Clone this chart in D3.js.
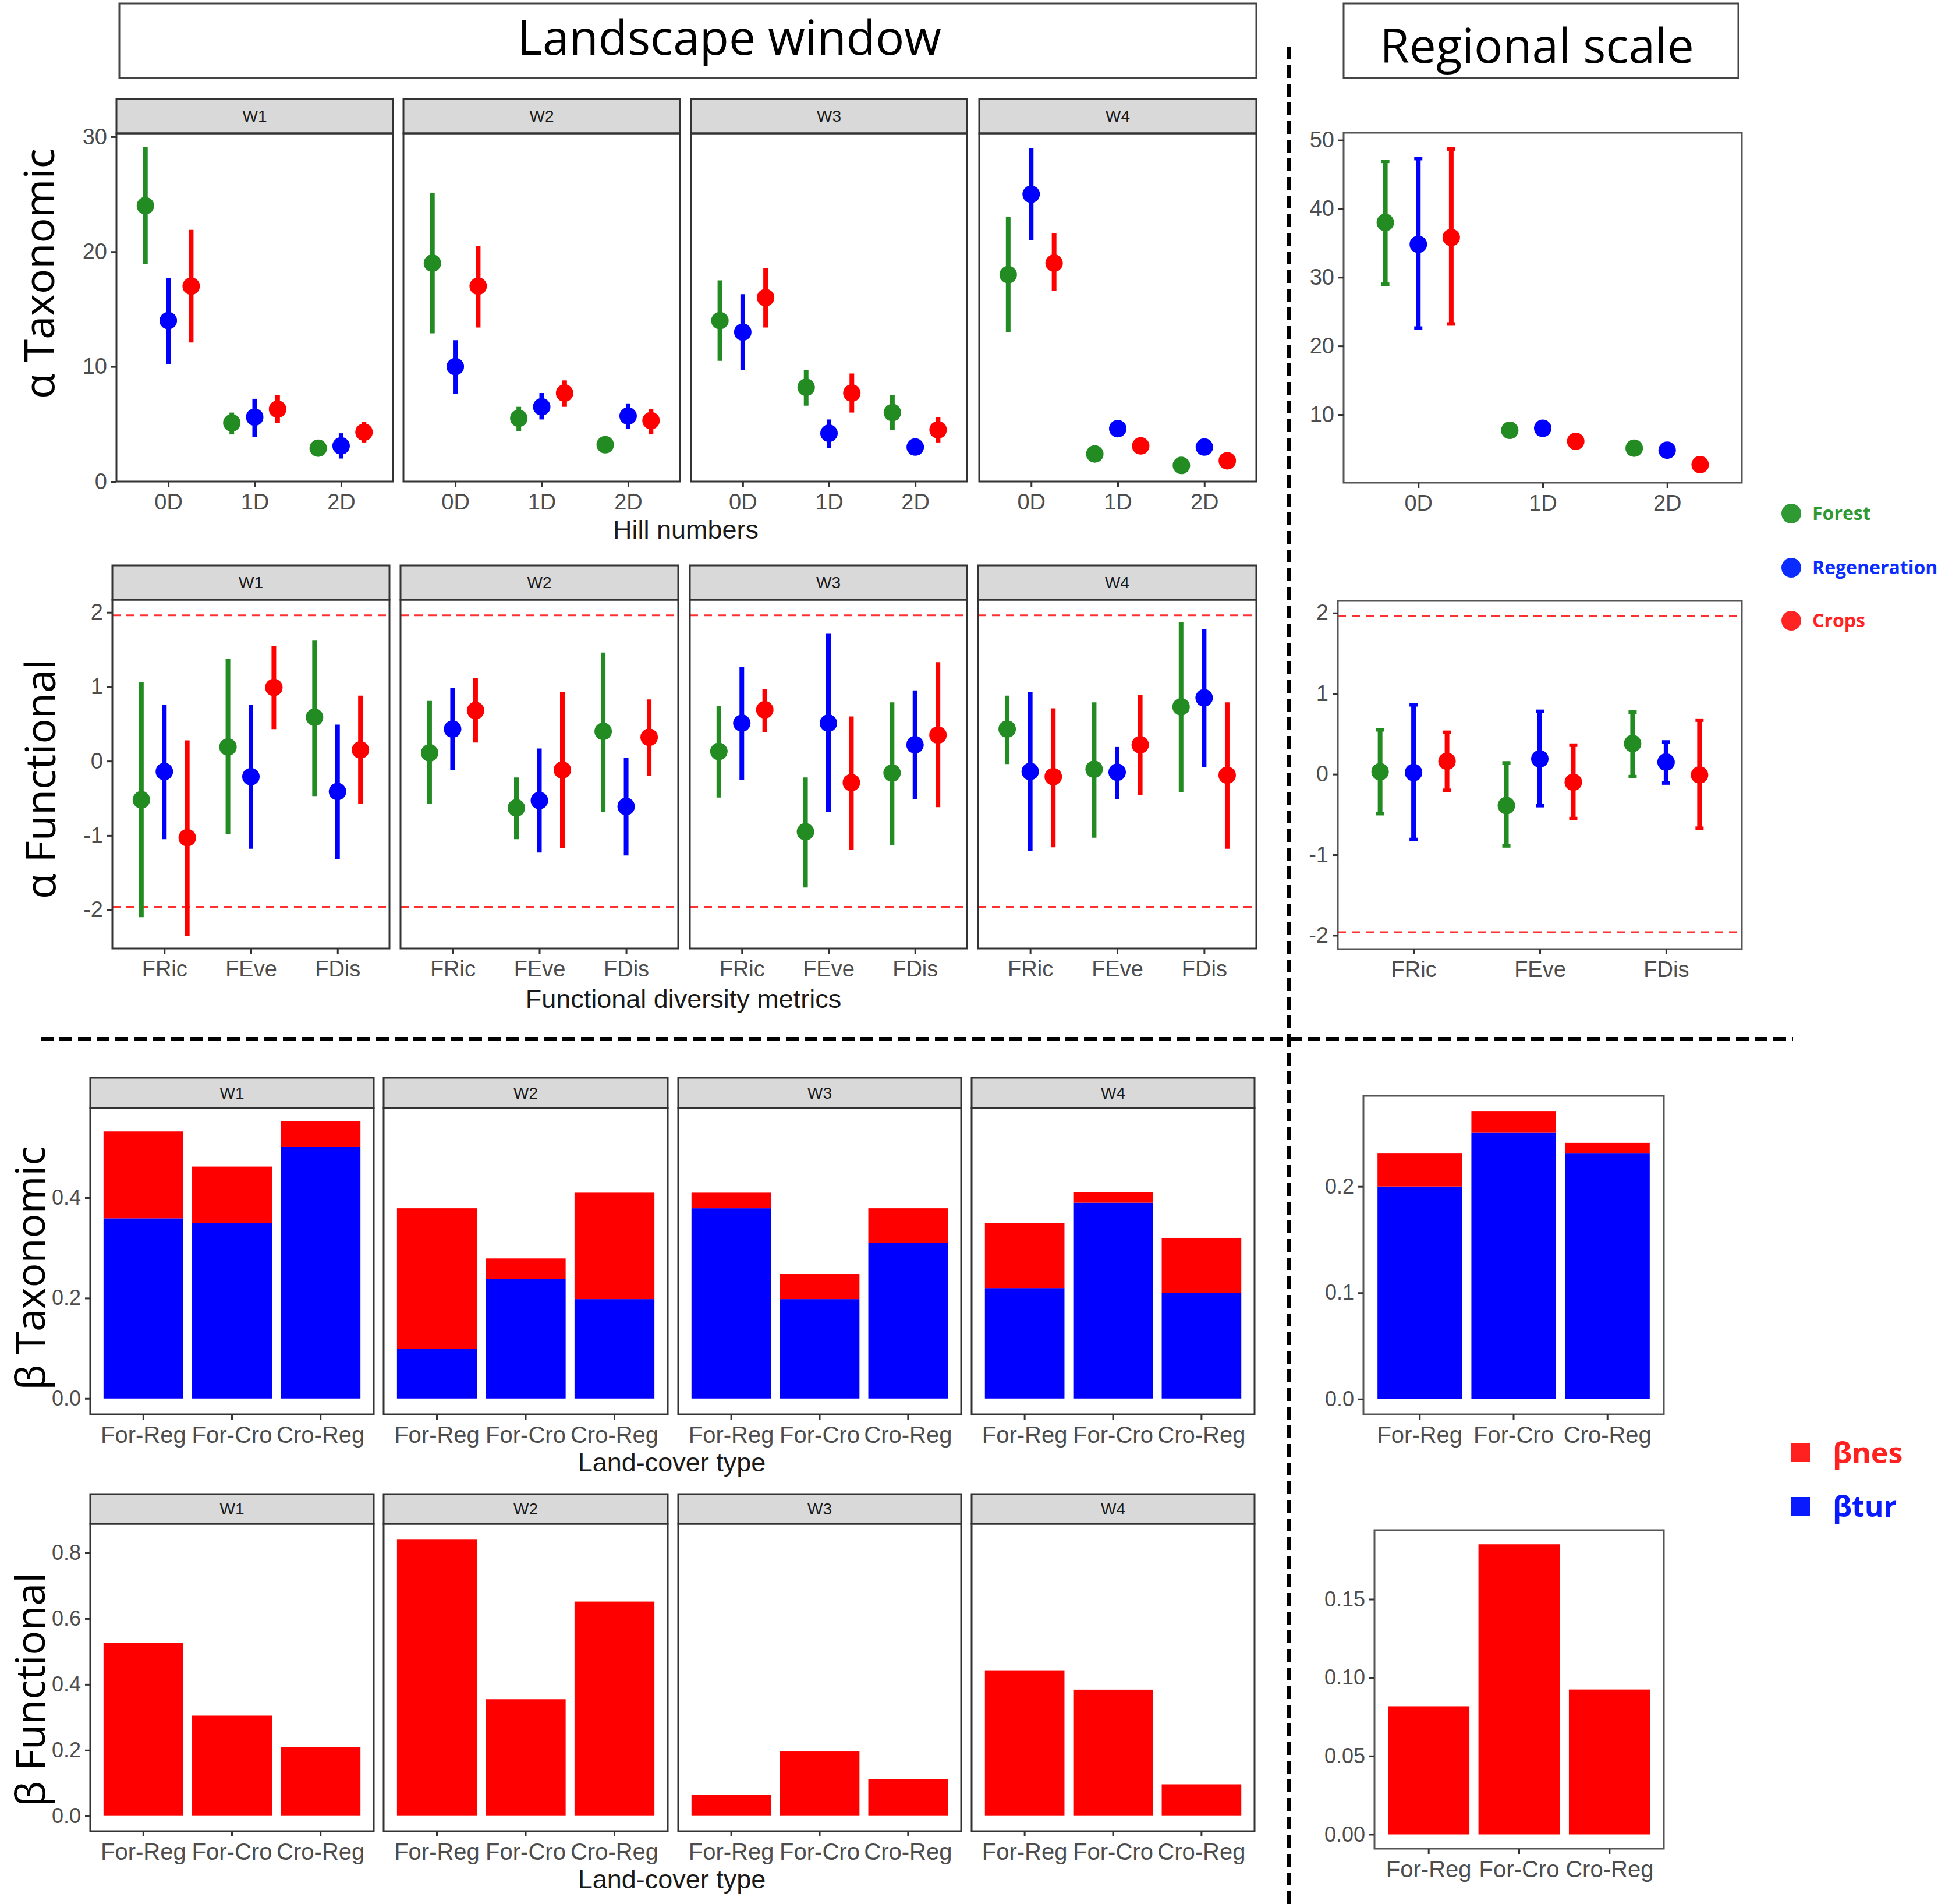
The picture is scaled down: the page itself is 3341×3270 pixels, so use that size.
<!DOCTYPE html>
<html>
  <head>
    <meta charset="UTF-8" />
    <script src="https://d3js.org/d3.v7.min.js"></script>
    <style>
      body { margin: 0; background: #fff; }
    </style>
  </head>
  <body>
    <div id="my_dataviz"></div>

    <script>
      // ---- categories ----
      const windows = ["W1", "W2", "W3", "W4"];
      const hillNumbers = ["0D", "1D", "2D"];
      const fdMetrics = ["FRic", "FEve", "FDis"];
      const pairs = ["For-Reg", "For-Cro", "Cro-Reg"];
      const landCovers = ["Forest", "Regeneration", "Crops"];

      // ---- alpha taxonomic, [mean, low, high] per window x hill number ----
      const aTaxForest = [
        [[24.0, 18.9, 29.1], [5.1, 4.1, 6.0], [2.9, 2.9, 2.9]],
        [[19.0, 12.9, 25.1], [5.5, 4.4, 6.5], [3.2, 3.2, 3.2]],
        [[14.0, 10.5, 17.5], [8.2, 6.6, 9.7], [6.0, 4.5, 7.5]],
        [[18.0, 13.0, 23.0], [2.4, 2.4, 2.4], [1.4, 1.4, 1.4]]
      ];
      const aTaxRegen = [
        [[14.0, 10.2, 17.7], [5.6, 3.9, 7.2], [3.1, 2.0, 4.2]],
        [[10.0, 7.6, 12.3], [6.5, 5.4, 7.7], [5.7, 4.6, 6.8]],
        [[13.0, 9.7, 16.3], [4.2, 2.9, 5.4], [3.0, 2.7, 3.3]],
        [[25.0, 21.0, 29.0], [4.6, 4.6, 4.6], [3.0, 3.0, 3.0]]
      ];
      const aTaxCrops = [
        [[17.0, 12.1, 21.9], [6.3, 5.1, 7.5], [4.3, 3.4, 5.2]],
        [[17.0, 13.4, 20.5], [7.7, 6.5, 8.8], [5.3, 4.1, 6.3]],
        [[16.0, 13.4, 18.6], [7.7, 6.0, 9.4], [4.5, 3.4, 5.6]],
        [[19.0, 16.6, 21.6], [3.1, 3.1, 3.1], [1.8, 1.8, 1.8]]
      ];
      // regional scale
      const aTaxRegForest = [[38.0, 29.0, 46.9], [7.7, 7.7, 7.7], [5.1, 5.1, 5.1]];
      const aTaxRegRegen = [[34.8, 22.6, 47.3], [8.0, 8.0, 8.0], [4.8, 4.8, 4.8]];
      const aTaxRegCrops = [[35.8, 23.2, 48.7], [6.1, 6.1, 6.1], [2.7, 2.7, 2.7]];

      // ---- alpha functional (SES), [mean, low, high] per window x metric ----
      const aFunForest = [
        [[-0.52, -2.1, 1.06], [0.19, -0.98, 1.38], [0.59, -0.47, 1.62]],
        [[0.11, -0.57, 0.81], [-0.63, -1.05, -0.22], [0.4, -0.68, 1.46]],
        [[0.13, -0.49, 0.74], [-0.95, -1.7, -0.22], [-0.16, -1.13, 0.79]],
        [[0.43, -0.04, 0.88], [-0.11, -1.03, 0.79], [0.73, -0.42, 1.87]]
      ];
      const aFunRegen = [
        [[-0.14, -1.05, 0.76], [-0.21, -1.18, 0.76], [-0.41, -1.32, 0.49]],
        [[0.43, -0.12, 0.98], [-0.53, -1.23, 0.17], [-0.61, -1.27, 0.04]],
        [[0.51, -0.25, 1.27], [0.51, -0.68, 1.72], [0.22, -0.51, 0.95]],
        [[-0.14, -1.21, 0.93], [-0.15, -0.51, 0.19], [0.85, -0.08, 1.77]]
      ];
      const aFunCrops = [
        [[-1.03, -2.35, 0.28], [0.99, 0.43, 1.55], [0.15, -0.57, 0.88]],
        [[0.68, 0.25, 1.12], [-0.12, -1.17, 0.93], [0.32, -0.2, 0.83]],
        [[0.69, 0.39, 0.97], [-0.29, -1.19, 0.6], [0.35, -0.62, 1.33]],
        [[-0.21, -1.16, 0.71], [0.22, -0.46, 0.89], [-0.19, -1.18, 0.79]]
      ];
      const aFunRegForest = [[0.03, -0.49, 0.55], [-0.39, -0.89, 0.14], [0.38, -0.03, 0.77]];
      const aFunRegRegen = [[0.02, -0.81, 0.86], [0.19, -0.39, 0.78], [0.15, -0.11, 0.4]];
      const aFunRegCrops = [[0.16, -0.2, 0.52], [-0.1, -0.55, 0.36], [-0.01, -0.67, 0.67]];
      const sesLimit = 1.96;

      // ---- beta taxonomic: turnover and nestedness per window x pair ----
      const bTaxTur = [
        [0.359, 0.349, 0.501],
        [0.099, 0.238, 0.198],
        [0.379, 0.198, 0.31],
        [0.22, 0.39, 0.21]
      ];
      const bTaxNes = [
        [0.173, 0.113, 0.051],
        [0.28, 0.041, 0.212],
        [0.031, 0.05, 0.069],
        [0.129, 0.021, 0.11]
      ];
      const bTaxRegTur = [0.2, 0.251, 0.231];
      const bTaxRegNes = [0.031, 0.02, 0.01];

      // ---- beta functional per window x pair ----
      const bFun = [
        [0.526, 0.305, 0.209],
        [0.842, 0.355, 0.652],
        [0.064, 0.196, 0.112],
        [0.443, 0.384, 0.096]
      ];
      const bFunReg = [0.0817, 0.185, 0.0924];

      // ---- y ticks ----
      const ticksATax = [0, 10, 20, 30];
      const ticksATaxReg = [10, 20, 30, 40, 50];
      const ticksAFun = [-2, -1, 0, 1, 2];
      const ticksBTax = [0, 0.2, 0.4];
      const ticksBTaxReg = [0, 0.1, 0.2];
      const ticksBFun = [0, 0.2, 0.4, 0.6, 0.8];
      const ticksBFunReg = [0, 0.05, 0.1, 0.15];

      const coverColors = ["#228B22", "#0000FF", "#FF0000"];
      const legendColors = ["#2f9a33", "#0a2cff", "#ff2424"];
      const turColor = "#0000FF", nesColor = "#FF0000";

      const W = 3341, H = 3270;
      const svg = d3
        .select("#my_dataviz")
        .append("svg")
        .attr("width", W)
        .attr("height", H)
        .style("font-family", "'Liberation Sans', Arial, sans-serif");

      // facet layout per row: strip top, panel top, panel bottom, panel x ranges, regional box
      const rows = [
        { sy: 170, y0: 229, y1: 827,
          xs: [[200, 675], [693, 1168], [1187, 1661], [1682, 2158]],
          reg: { x: [2308, 2992], y: [228, 829] } },
        { sy: 971, y0: 1030, y1: 1629,
          xs: [[193, 669], [688, 1165], [1185, 1661], [1680, 2158]],
          reg: { x: [2298, 2992], y: [1032, 1630] } },
        { sy: 1851, y0: 1903, y1: 2429,
          xs: [[155, 642], [659, 1147], [1165, 1651], [1669, 2155]],
          reg: { x: [2342, 2858], y: [1882, 2429] } },
        { sy: 2566, y0: 2617, y1: 3145,
          xs: [[155, 642], [659, 1147], [1165, 1651], [1669, 2155]],
          reg: { x: [2361, 2858], y: [2628, 3175] } }
      ];

      // ggplot style: plain hyphen for negatives
      const fmtPlain = f => d => {
        const s = d3.format(f)(Math.abs(d));
        return d < 0 ? "-" + s : s;
      };

      function styleAxis(g, size) {
        g.select(".domain").remove();
        g.selectAll(".tick line").attr("stroke", "#333").attr("stroke-width", 3);
        g.selectAll(".tick text")
          .attr("fill", "#4d4d4d")
          .style("font-size", size + "px")
          .style("font-family", "'Liberation Sans', Arial, sans-serif");
      }

      function frame(x0, x1, sy, y0, y1, label, border) {
        if (label) {
          svg.append("rect")
            .attr("x", x0).attr("y", sy)
            .attr("width", x1 - x0).attr("height", y0 - sy)
            .attr("fill", "#d9d9d9").attr("stroke", "#333").attr("stroke-width", 3);
          svg.append("text")
            .attr("x", (x0 + x1) / 2).attr("y", (sy + y0) / 2)
            .attr("dy", "0.35em").attr("text-anchor", "middle")
            .attr("fill", "#1a1a1a").style("font-size", "28px")
            .text(label);
        }
        svg.append("rect")
          .attr("x", x0).attr("y", y0)
          .attr("width", x1 - x0).attr("height", y1 - y0)
          .attr("fill", "none").attr("stroke", border).attr("stroke-width", 3);
      }

      // dot + error bar panel
      function pointPanel(x0, x1, sy, y0, y1, label, cats, seriesList, yDomain, yTicks, showY, opts) {
        const x = d3.scalePoint().domain(cats).range([x0, x1]).padding(0.6);
        const y = d3.scaleLinear().domain(yDomain).range([y1, y0]);
        const off = x.step() * 0.265;
        svg.append("rect").attr("x", x0).attr("y", y0)
          .attr("width", x1 - x0).attr("height", y1 - y0).attr("fill", "#fff");

        if (opts.hline) {
          [opts.hline, -opts.hline].forEach(v => {
            svg.append("line")
              .attr("x1", x0).attr("x2", x1).attr("y1", y(v)).attr("y2", y(v))
              .attr("stroke", "#FF3030").attr("stroke-width", 3)
              .attr("stroke-dasharray", "14,10");
          });
        }

        seriesList.forEach((vals, s) => {
          const g = svg.append("g").attr("fill", coverColors[s]).attr("stroke", coverColors[s]);
          const data = vals.map((d, i) => ({ cat: cats[i], m: d[0], lo: d[1], hi: d[2] }));
          const cx = d => x(d.cat) + (s - 1) * off;
          g.selectAll("line.err").data(data).join("line")
            .attr("class", "err")
            .attr("x1", cx).attr("x2", cx)
            .attr("y1", d => y(d.lo)).attr("y2", d => y(d.hi))
            .attr("stroke-width", 8);
          if (opts.caps) {
            ["lo", "hi"].forEach(k => {
              g.selectAll("line.cap" + k).data(data.filter(d => d.hi > d.lo)).join("line")
                .attr("x1", d => cx(d) - 7).attr("x2", d => cx(d) + 7)
                .attr("y1", d => y(d[k])).attr("y2", d => y(d[k]))
                .attr("stroke-width", 6);
            });
          }
          g.selectAll("circle").data(data).join("circle")
            .attr("cx", cx).attr("cy", d => y(d.m)).attr("r", 15).attr("stroke", "none");
        });

        frame(x0, x1, sy, y0, y1, label, opts.border || "#333");

        svg.append("g").attr("transform", `translate(0,${y1})`)
          .call(d3.axisBottom(x).tickSize(9).tickPadding(12))
          .call(g => styleAxis(g, 38));
        if (showY) {
          svg.append("g").attr("transform", `translate(${x0},0)`)
            .call(d3.axisLeft(y).tickValues(yTicks).tickSize(9).tickPadding(7).tickFormat(fmtPlain("d")))
            .call(g => styleAxis(g, 38));
        }
      }

      // stacked bar panel
      function barPanel(x0, x1, sy, y0, y1, label, layers, yDomain, yTicks, fmt, showY, opts) {
        const x = d3.scaleBand().domain(pairs).range([x0, x1]).paddingInner(0.1).paddingOuter(0.15);
        const y = d3.scaleLinear().domain(yDomain).range([y1, y0]);
        svg.append("rect").attr("x", x0).attr("y", y0)
          .attr("width", x1 - x0).attr("height", y1 - y0).attr("fill", "#fff");

        const table = pairs.map((p, i) => {
          const row = { pair: p };
          layers.forEach(l => { row[l.key] = l.vals[i]; });
          return row;
        });
        const stacked = d3.stack().keys(layers.map(l => l.key))(table);
        stacked.forEach((layer, k) => {
          svg.append("g").attr("fill", layers[k].color)
            .selectAll("rect").data(layer).join("rect")
            .attr("x", d => x(d.data.pair))
            .attr("width", x.bandwidth())
            .attr("y", d => y(d[1]))
            .attr("height", d => y(d[0]) - y(d[1]));
        });

        frame(x0, x1, sy, y0, y1, label, opts.border || "#333");

        svg.append("g").attr("transform", `translate(0,${y1})`)
          .call(d3.axisBottom(x).tickSize(9).tickPadding(12))
          .call(g => styleAxis(g, 40));
        if (showY) {
          svg.append("g").attr("transform", `translate(${x0},0)`)
            .call(d3.axisLeft(y).tickValues(yTicks).tickSize(9).tickPadding(7).tickFormat(fmtPlain(fmt)))
            .call(g => styleAxis(g, 36));
        }
      }

      // ---- row 1: alpha taxonomic ----
      windows.forEach((w, i) => {
        const r = rows[0];
        pointPanel(r.xs[i][0], r.xs[i][1], r.sy, r.y0, r.y1, w, hillNumbers,
          [aTaxForest[i], aTaxRegen[i], aTaxCrops[i]], [0, 30.3], ticksATax, i === 0, {});
      });
      pointPanel(rows[0].reg.x[0], rows[0].reg.x[1], null, rows[0].reg.y[0], rows[0].reg.y[1], null,
        hillNumbers, [aTaxRegForest, aTaxRegRegen, aTaxRegCrops], [0.07, 51.07], ticksATaxReg, true,
        { caps: true, border: "#555" });

      // ---- row 2: alpha functional ----
      windows.forEach((w, i) => {
        const r = rows[1];
        pointPanel(r.xs[i][0], r.xs[i][1], r.sy, r.y0, r.y1, w, fdMetrics,
          [aFunForest[i], aFunRegen[i], aFunCrops[i]], [-2.52, 2.17], ticksAFun, i === 0,
          { hline: sesLimit });
      });
      pointPanel(rows[1].reg.x[0], rows[1].reg.x[1], null, rows[1].reg.y[0], rows[1].reg.y[1], null,
        fdMetrics, [aFunRegForest, aFunRegRegen, aFunRegCrops], [-2.17, 2.15], ticksAFun, true,
        { hline: sesLimit, caps: true, border: "#555" });

      // ---- row 3: beta taxonomic ----
      windows.forEach((w, i) => {
        const r = rows[2];
        barPanel(r.xs[i][0], r.xs[i][1], r.sy, r.y0, r.y1, w,
          [{ key: "tur", vals: bTaxTur[i], color: turColor }, { key: "nes", vals: bTaxNes[i], color: nesColor }],
          [-0.0316, 0.5787], ticksBTax, ".1f", i === 0, {});
      });
      barPanel(rows[2].reg.x[0], rows[2].reg.x[1], null, rows[2].reg.y[0], rows[2].reg.y[1], null,
        [{ key: "tur", vals: bTaxRegTur, color: turColor }, { key: "nes", vals: bTaxRegNes, color: nesColor }],
        [-0.01435, 0.2853], ticksBTaxReg, ".1f", true, { border: "#555" });

      // ---- row 4: beta functional ----
      windows.forEach((w, i) => {
        const r = rows[3];
        barPanel(r.xs[i][0], r.xs[i][1], r.sy, r.y0, r.y1, w,
          [{ key: "fun", vals: bFun[i], color: nesColor }],
          [-0.0466, 0.8886], ticksBFun, ".1f", i === 0, {});
      });
      barPanel(rows[3].reg.x[0], rows[3].reg.x[1], null, rows[3].reg.y[0], rows[3].reg.y[1], null,
        [{ key: "fun", vals: bFunReg, color: nesColor }],
        [-0.0091, 0.194], ticksBFunReg, ".2f", true, { border: "#555" });

      // ---- axis titles ----
      const xTitles = [
        ["Hill numbers", 1178, 909],
        ["Functional diversity metrics", 1174, 1715],
        ["Land-cover type", 1154, 2511],
        ["Land-cover type", 1154, 3227]
      ];
      xTitles.forEach(t => {
        svg.append("text").attr("x", t[1]).attr("y", t[2]).attr("dy", "0.35em")
          .attr("text-anchor", "middle").attr("fill", "#1a1a1a")
          .style("font-size", "45px").text(t[0]);
      });

      const yTitles = [
        ["α Taxonomic", 68, 470, 72],
        ["α Functional", 70, 1338, 72],
        ["β Taxonomic", 52, 2178, 70],
        ["β Functional", 52, 2902, 70]
      ];
      yTitles.forEach(t => {
        svg.append("text")
          .attr("transform", `translate(${t[1]},${t[2]}) rotate(-90)`)
          .attr("dy", "0.35em").attr("text-anchor", "middle")
          .style("font-family", "'Open Sans', 'Noto Sans', sans-serif")
          .style("font-size", t[3] + "px")
          .text(t[0]);
      });

      // ---- section titles ----
      const headers = [
        ["Landscape window", 205, 2158, 6, 134, 94, 1253],
        ["Regional scale", 2308, 2986, 6, 134, 108, 2640]
      ];
      headers.forEach(h => {
        svg.append("rect").attr("x", h[1]).attr("y", h[3])
          .attr("width", h[2] - h[1]).attr("height", h[4] - h[3])
          .attr("fill", "#fff").attr("stroke", "#444").attr("stroke-width", 3);
        svg.append("text").attr("x", h[6]).attr("y", h[5])
          .attr("text-anchor", "middle")
          .style("font-family", "'Open Sans', 'Noto Sans', sans-serif")
          .style("font-size", "82px").text(h[0]);
      });

      // ---- dashed separators ----
      svg.append("line").attr("x1", 2214).attr("x2", 2214).attr("y1", 80).attr("y2", H)
        .attr("stroke", "#000").attr("stroke-width", 6).attr("stroke-dasharray", "22,10");
      svg.append("line").attr("x1", 70).attr("x2", 3080).attr("y1", 1784).attr("y2", 1784)
        .attr("stroke", "#000").attr("stroke-width", 6).attr("stroke-dasharray", "22,10");

      // ---- legends ----
      const legendY = [882, 975, 1066];
      landCovers.forEach((c, i) => {
        svg.append("circle").attr("cx", 3077).attr("cy", legendY[i]).attr("r", 17)
          .attr("fill", legendColors[i]);
        svg.append("text").attr("x", 3113).attr("y", legendY[i]).attr("dy", "0.35em")
          .attr("fill", legendColors[i])
          .style("font-family", "'Open Sans', 'Noto Sans', sans-serif")
          .style("font-weight", "bold").style("font-size", "32px").text(c);
      });

      const betaLegend = [["βnes", "#ff2020", 2495], ["βtur", "#0a1aff", 2587]];
      betaLegend.forEach(b => {
        svg.append("rect").attr("x", 3077).attr("y", b[2] - 16).attr("width", 32).attr("height", 32)
          .attr("fill", b[1]);
        svg.append("text").attr("x", 3148).attr("y", b[2]).attr("dy", "0.35em")
          .attr("fill", b[1])
          .style("font-family", "'Open Sans', 'Noto Sans', sans-serif")
          .style("font-weight", "bold").style("font-size", "50px").text(b[0]);
      });
    </script>
  </body>
</html>
